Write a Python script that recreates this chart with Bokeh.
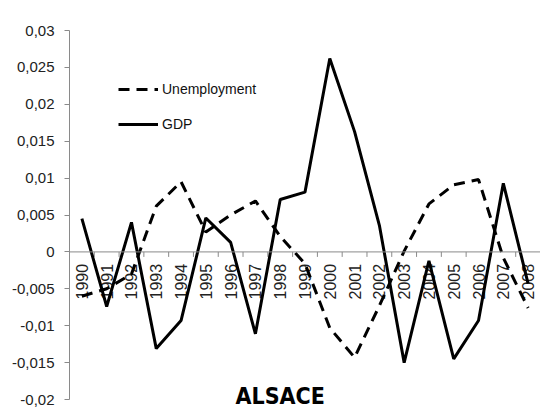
import math
from bokeh.plotting import figure
from bokeh.models import (Range1d, FixedTicker, CustomJSTickFormatter, Legend,
                          LegendItem, Label, Span)
from bokeh.core.properties import value
from bokeh.embed import file_html
from bokeh.resources import INLINE

# ---- data ----
years = [str(y) for y in range(1990, 2009)]
unemployment = [-0.0060, -0.0050, -0.0030, 0.0062, 0.0095, 0.0027, 0.0050,
                0.0069, 0.0021, -0.0016, -0.0103, -0.0143, -0.0073, 0.0001,
                0.0065, 0.0091, 0.0098, -0.0008, -0.0076]
gdp = [0.0045, -0.0074, 0.0040, -0.0131, -0.0093, 0.0046, 0.0013, -0.0111,
       0.0071, 0.0081, 0.0262, 0.0163, 0.0036, -0.0150, -0.0012, -0.0145,
       -0.0093, 0.0093, -0.0043]
y_ticks = [-0.02, -0.015, -0.01, -0.005, 0.0, 0.005, 0.01, 0.015, 0.02, 0.025, 0.03]
series_names = ["Unemployment", "GDP"]
title_text = "ALSACE"

xs = list(range(len(years)))
bounds = [i - 0.5 for i in range(len(years) + 1)]

FONT = "Liberation Sans"
TITLE_FONT = "DejaVu Sans Condensed"
AXIS_GRAY = "#8a8a8a"

p = figure(width=540, height=412, output_backend="svg", toolbar_location=None,
           x_range=Range1d(-0.5, len(years) - 0.5),
           y_range=Range1d(-0.02176, y_ticks[-1]),
           x_axis_location=None,
           min_border_left=69, min_border_right=0,
           min_border_top=30, min_border_bottom=0)
p.outline_line_color = None
p.xgrid.grid_line_color = None
p.ygrid.grid_line_color = None
p.background_fill_color = "white"
p.border_fill_color = "white"

# y axis
ax = p.yaxis[0]
ax.bounds = (y_ticks[0], y_ticks[-1])
ax.ticker = FixedTicker(ticks=y_ticks)
ax.formatter = CustomJSTickFormatter(code="""
var s = tick.toFixed(3).replace(/0+$/, '').replace(/\\.$/, '');
if (s === '-0') { s = '0'; }
return s.replace('.', ',');
""")
ax.axis_line_color = AXIS_GRAY
ax.major_tick_line_color = AXIS_GRAY
ax.major_tick_out = 5
ax.major_tick_in = 0
ax.minor_tick_line_color = None
ax.major_label_standoff = 10
ax.major_label_text_font = FONT
ax.major_label_text_font_size = "15px"
ax.major_label_text_color = "#222222"

# category axis at zero
p.add_layout(Span(location=0, dimension="width", line_color=AXIS_GRAY, line_width=1))
p.ray(x=bounds, y=[0] * len(bounds), length=5, length_units="screen",
      angle=-math.pi / 2, line_color=AXIS_GRAY, line_width=1)
p.text(x=xs, y=[0] * len(xs), text=years, angle=math.pi / 2,
       text_align="right", text_baseline="middle", y_offset=12,
       text_font=value(FONT), text_font_size="16px", text_color="#222222")

# series
r_u = p.line(xs, unemployment, line_color="black", line_width=3, line_dash="11 7")
r_g = p.line(xs, gdp, line_color="black", line_width=3)

legend = Legend(items=[LegendItem(label=series_names[0], renderers=[r_u]),
                       LegendItem(label=series_names[1], renderers=[r_g])],
                location=(49, 278), glyph_width=40, glyph_height=20,
                spacing=15, padding=0, margin=0, label_standoff=4,
                background_fill_alpha=0, border_line_color=None,
                label_text_font=FONT, label_text_font_size="14px",
                label_text_color="#111111")
p.add_layout(legend)

p.add_layout(Label(x=8, y=y_ticks[0] + 0.0005, text=title_text, text_align="center",
                   text_baseline="middle", text_font=TITLE_FONT,
                   text_font_style="bold", text_font_size="23px",
                   text_color="black"))

open("out.html", "w").write(file_html(p, INLINE))
